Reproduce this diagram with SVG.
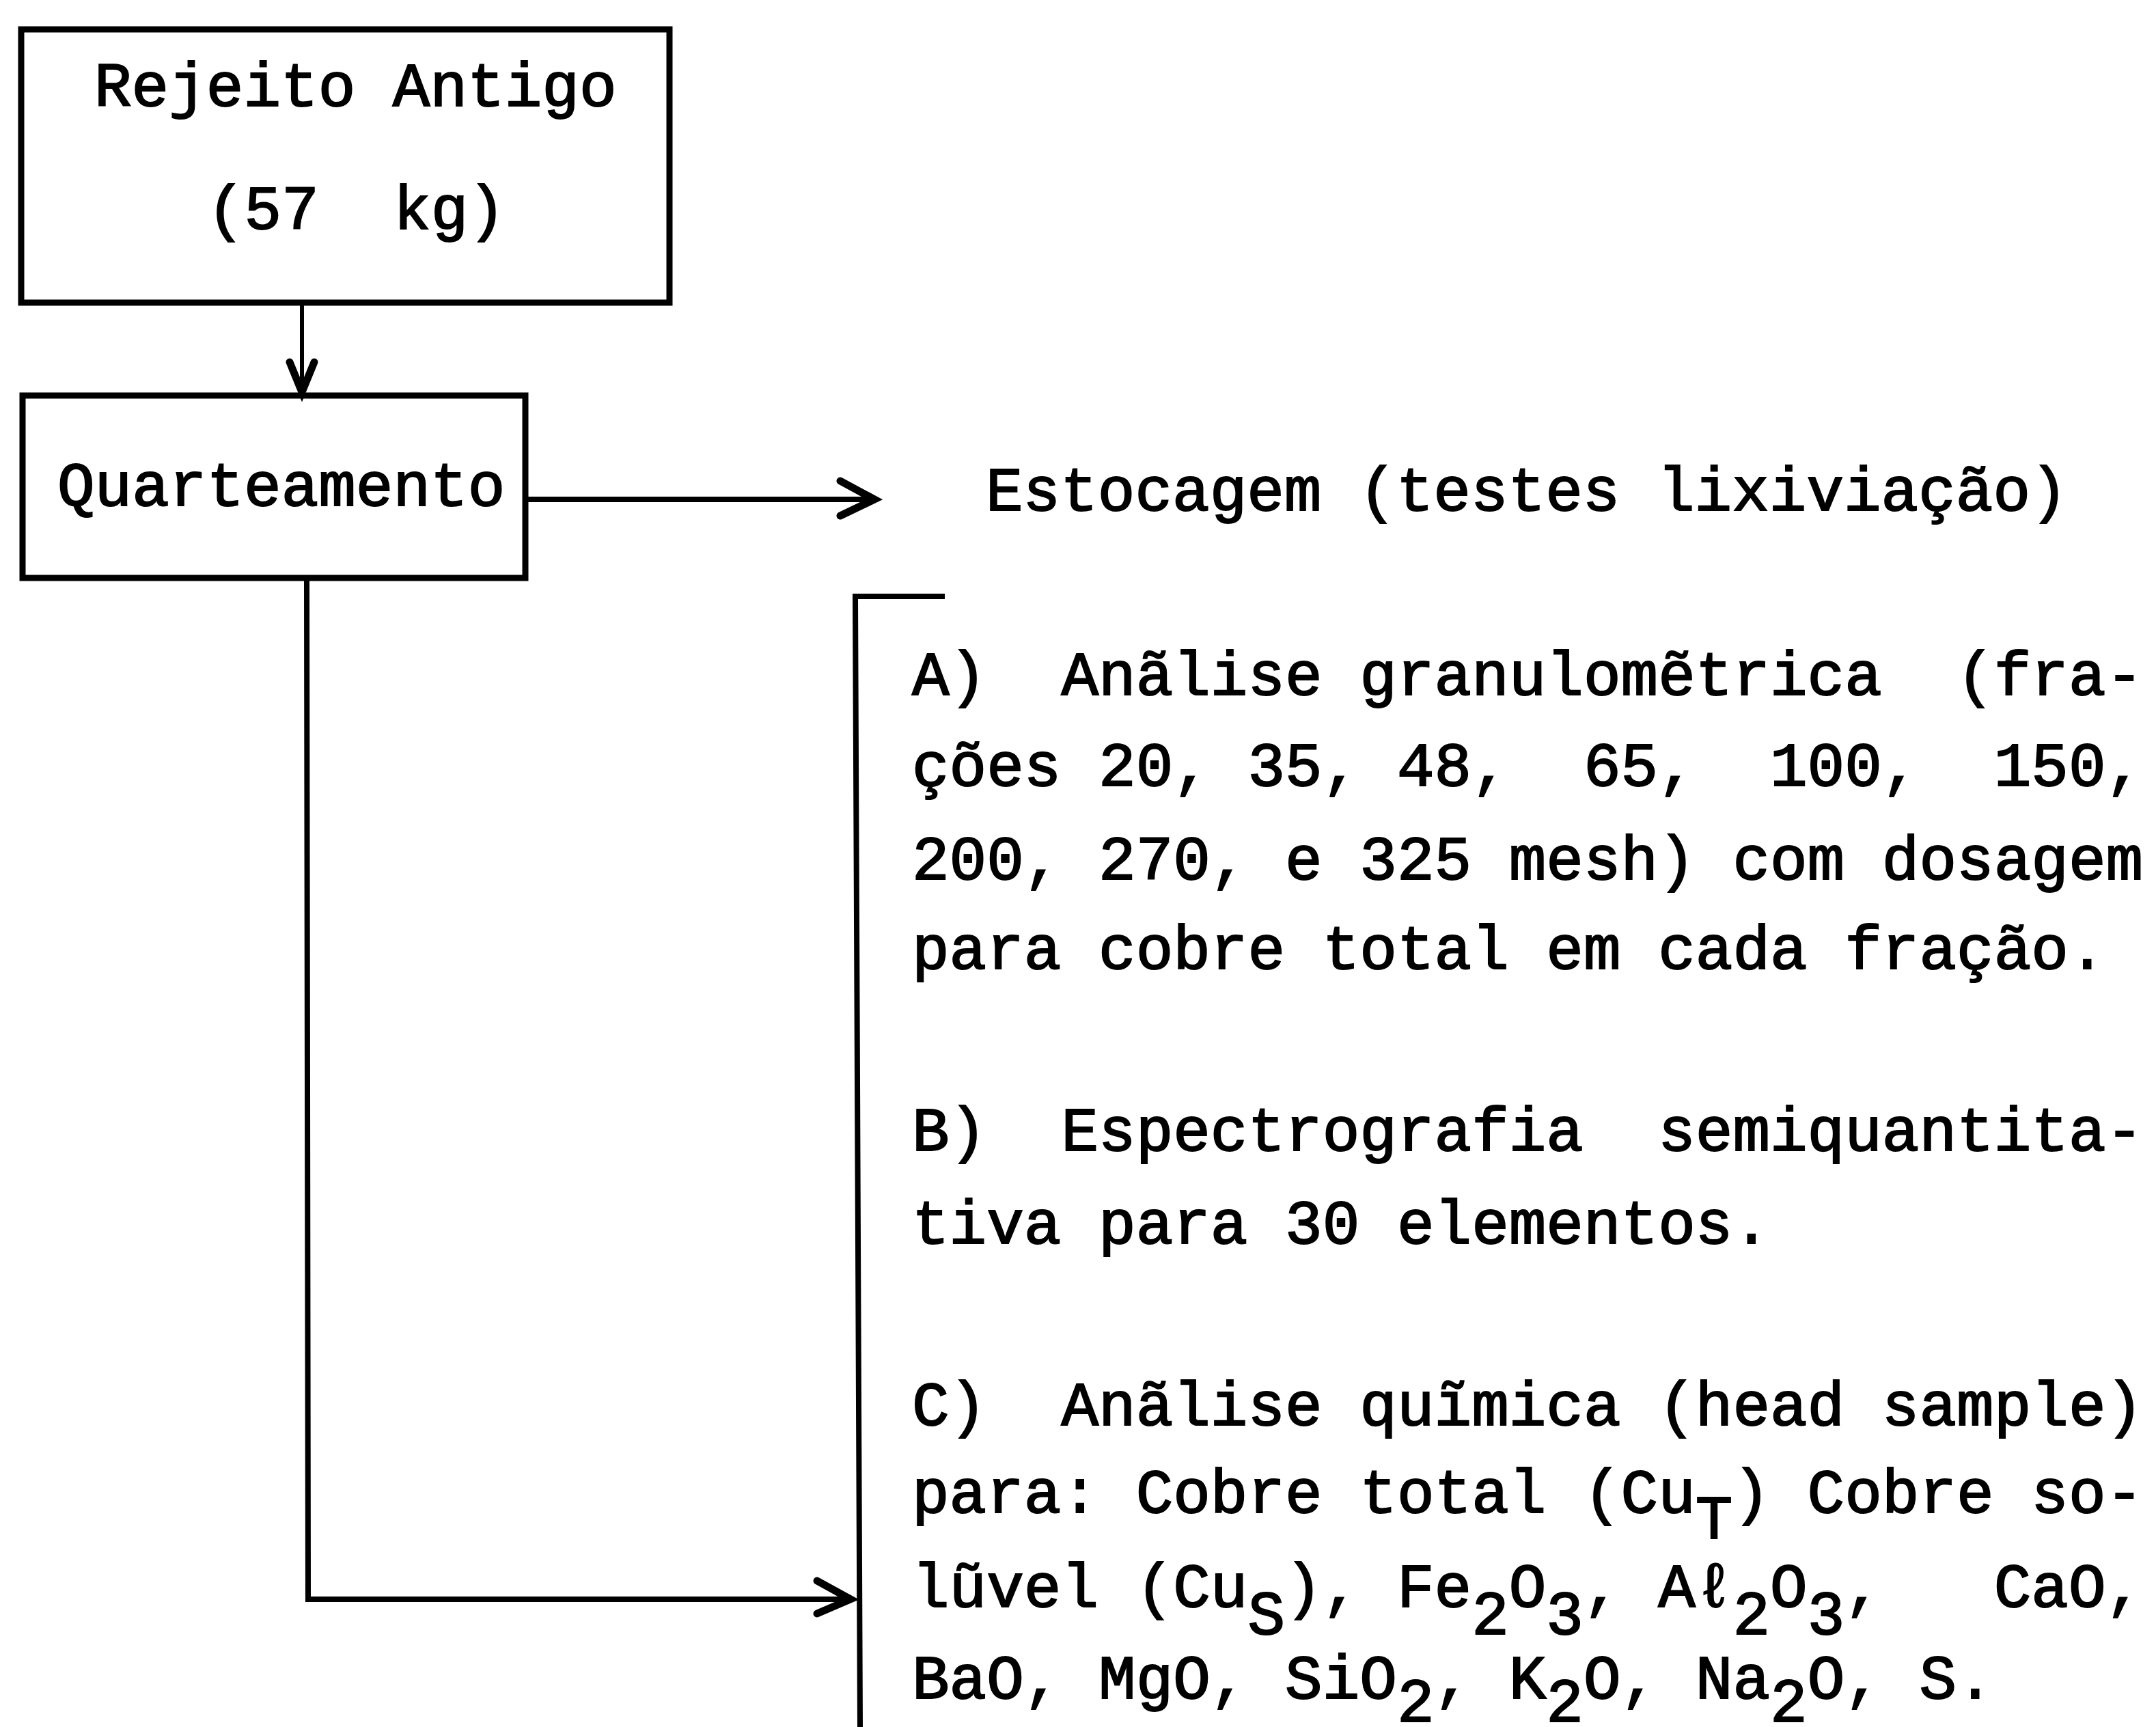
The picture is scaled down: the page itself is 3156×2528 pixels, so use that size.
<svg xmlns="http://www.w3.org/2000/svg" width="3156" height="2528" viewBox="0 0 3156 2528">
<style>
  .t { font-family: "Liberation Mono", "Courier New", monospace; font-size: 91px; fill: #000; stroke: #000; stroke-width: 2; white-space: pre; }
  .box { fill: none; stroke: #000; stroke-width: 9; }
  .ln { fill: none; stroke: #000; stroke-width: 8; stroke-linecap: square; }
  .thin { fill: none; stroke: #000; stroke-width: 6; }
  .head { fill: none; stroke: #000; stroke-width: 11; stroke-linejoin: miter; stroke-linecap: round; }
</style>
<rect width="3156" height="2528" fill="#fff"/>

<g id="node-rejeito">
  <rect class="box" x="31" y="43" width="949" height="400"/>
  <text class="t" x="138" y="155" xml:space="preserve">Rejeito Antigo</text>
  <text class="t" x="303" y="335" xml:space="preserve">(57  kg)</text>
</g>

<g id="node-quarteamento">
  <rect class="box" x="33" y="579" width="736" height="267"/>
  <text class="t" x="84" y="740" xml:space="preserve">Quarteamento</text>
</g>

<g id="node-estocagem">
  <text class="t" x="1443" y="747" xml:space="preserve">Estocagem (testes lixiviação)</text>
</g>

<g id="node-analises">
  <path class="ln" d="M1252,873 L1379,873 M1252,873 L1259,2528"/>
  <text class="t" x="1335" y="1017" xml:space="preserve">A)  Anãlise granulomẽtrica  (fra-</text>
  <text class="t" x="1335" y="1150" xml:space="preserve">ções 20, 35, 48,  65,  100,  150,</text>
  <text class="t" x="1335" y="1287" xml:space="preserve">200, 270, e 325 mesh) com dosagem</text>
  <text class="t" x="1335" y="1418" xml:space="preserve">para cobre total em cada fração.</text>
  <text class="t" x="1335" y="1684" xml:space="preserve">B)  Espectrografia  semiquantita-</text>
  <text class="t" x="1335" y="1820" xml:space="preserve">tiva para 30 elementos.</text>
  <text class="t" x="1335" y="2086" xml:space="preserve">C)  Anãlise quĩmica (head sample)</text>
  <text class="t" x="1335" y="2214" xml:space="preserve">para: Cobre total (Cu<tspan dy="38">T</tspan><tspan dy="-38">) Cobre so-</tspan></text>
  <text class="t" x="1335" y="2352" xml:space="preserve">lũvel (Cu<tspan dy="40">S</tspan><tspan dy="-40">), Fe</tspan><tspan dy="40">2</tspan><tspan dy="-40">O</tspan><tspan dy="40">3</tspan><tspan dy="-40">, Aℓ</tspan><tspan dy="40">2</tspan><tspan dy="-40">O</tspan><tspan dy="40">3</tspan><tspan dy="-40">,   CaO,</tspan></text>
  <text class="t" x="1335" y="2486" xml:space="preserve">BaO, MgO, SiO<tspan dy="34">2</tspan><tspan dy="-34">, K</tspan><tspan dy="34">2</tspan><tspan dy="-34">O, Na</tspan><tspan dy="34">2</tspan><tspan dy="-34">O, S.</tspan></text>
</g>

<g id="connectors">
  <!-- Rejeito -> Quarteamento -->
  <line class="thin" x1="442" y1="447" x2="442" y2="575"/>
  <path class="head" d="M424,530 L442,574 L460,530"/>
  <!-- Quarteamento -> Estocagem -->
  <line class="ln" x1="773" y1="731" x2="1276" y2="731"/>
  <path class="head" d="M1230,704 L1280,731 L1230,755"/>
  <!-- Quarteamento -> Analises -->
  <path class="ln" d="M449,850 L451,2341 L1241,2341"/>
  <path class="head" d="M1196,2314 L1245,2341 L1196,2362"/>
</g>
</svg>
